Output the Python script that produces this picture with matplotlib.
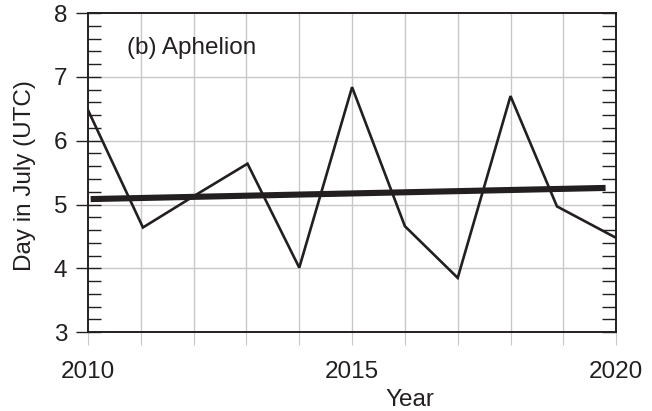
import matplotlib
matplotlib.use("Agg")
import matplotlib.pyplot as plt
from matplotlib.ticker import MultipleLocator, FixedLocator, FuncFormatter

# Date of aphelion each year (day in July, UTC)
years = [2010, 2011.04, 2012, 2013.02, 2014, 2015, 2016, 2017, 2018, 2018.88, 2019.97]
day_in_july = [6.48, 4.64, 5.13, 5.64, 4.01, 6.84, 4.66, 3.85, 6.70, 4.97, 4.49]

# Linear trend endpoints
trend_years = [2010.05, 2019.8]
trend_days = [5.085, 5.26]

tick_years = list(range(2010, 2021))
labeled_years = [2010, 2015, 2020]

ink = "#231f20"
grid_grey = "#c8c8c8"
fs = 17.5

plt.rcParams["font.family"] = ["Liberation Sans", "DejaVu Sans"]

fig = plt.figure(figsize=(6.52, 4.11), dpi=100)
ax = fig.add_axes([0.135, 0.192, 0.810, 0.776])

ax.set_xlim(2010, 2020)
ax.set_ylim(3, 8)

# grid
for yv in range(4, 8):
    ax.axhline(yv, color=grid_grey, lw=1.0, zorder=0)
for xv in tick_years[1:-1]:
    ax.axvline(xv, color=grid_grey, lw=1.0, zorder=0)

ax.plot(years, day_in_july, color=ink, lw=1.9, zorder=3, solid_joinstyle="miter")
ax.plot(trend_years, trend_days, color=ink, lw=4.4, zorder=4, solid_capstyle="butt")

# x axis: every year ticked outward in grey, labels only on 2010/2015/2020
ax.xaxis.set_major_locator(FixedLocator(tick_years))
ax.xaxis.set_major_formatter(FuncFormatter(
    lambda v, p: str(int(round(v))) if int(round(v)) in labeled_years else ""))
ax.tick_params(axis="x", which="major", direction="out", length=9.5, width=0.8,
               color=grid_grey, labelsize=fs, pad=11, labelcolor=ink)
for t in ax.xaxis.get_major_ticks():
    loc = t.get_loc()
    if loc in (2010, 2020):
        t.tick1line.set_color(ink)
        t.tick1line.set_markeredgewidth(1.1)

# y axis left: major inout, minor in
ax.yaxis.set_major_locator(MultipleLocator(1))
ax.yaxis.set_minor_locator(MultipleLocator(0.2))
ax.tick_params(axis="y", which="major", direction="inout", length=18, width=1.0,
               color=ink, labelsize=fs, pad=6, labelcolor=ink)
ax.tick_params(axis="y", which="minor", direction="in", length=9.4, width=1.0, color=ink)

# right-hand ticks pointing inward
ax2 = ax.twinx()
ax2.set_ylim(3, 8)
ax2.yaxis.set_major_locator(MultipleLocator(1))
ax2.yaxis.set_minor_locator(MultipleLocator(0.2))
ax2.tick_params(axis="y", which="both", direction="in", length=10, width=1.0,
                color=ink, labelright=False)

for a in (ax, ax2):
    for s in a.spines.values():
        s.set_color(ink)
        s.set_linewidth(1.2)

ax.text(0.074, 0.89, "(b) Aphelion", transform=ax.transAxes, fontsize=fs,
        color=ink, ha="left", va="center")

ax.set_ylabel("Day in July (UTC)", fontsize=fs, color=ink)
ax.yaxis.set_label_coords(-0.098, 0.49)
ax.set_xlabel("Year", fontsize=fs, color=ink)
ax.xaxis.set_label_coords(0.61, -0.18)

fig.savefig("out.png", dpi=100)
